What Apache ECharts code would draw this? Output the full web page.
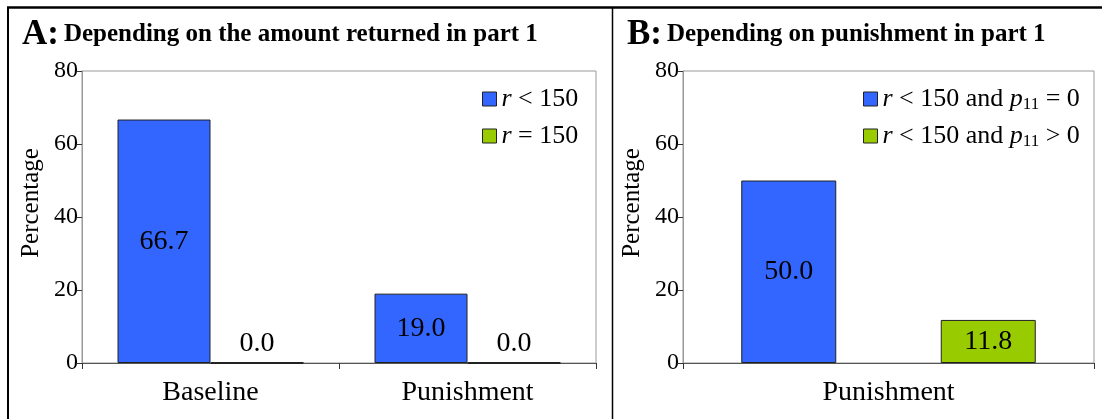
<!DOCTYPE html>
<html>
<head>
<meta charset="utf-8">
<script src="https://cdn.jsdelivr.net/npm/echarts@6/dist/echarts.min.js"></script>
<style>
html,body{margin:0;padding:0;background:#fff;}
#chart{width:1102px;height:419px;}
</style>
</head>
<body>
<div id="chart"></div>
<script>
// ---- data ----
var categoriesA = ['Baseline', 'Punishment'];
var seriesA_rLess = [66.7, 19.0];
var seriesA_rEq = [0.0, 0.0];
var categoriesB = ['Punishment'];
var seriesB_p0 = [50.0];
var seriesB_pPos = [11.8];
var yTicks = [0, 20, 40, 60, 80];
var titleA = ['A:', 'Depending on the amount returned in part 1'];
var titleB = ['B:', 'Depending on punishment in part 1'];

var FONT = '"Liberation Serif", "Times New Roman", serif';
var BLUE = '#3366FF';
var GREEN = '#99CC00';

var chart = echarts.init(document.getElementById('chart'), null, {renderer: 'canvas'});

function yAxis(gridIndex) {
  return {
    type: 'value', gridIndex: gridIndex, min: yTicks[0], max: yTicks[yTicks.length - 1], interval: 20,
    name: 'Percentage', nameLocation: 'middle', nameRotate: 90, nameGap: 38,
    nameTextStyle: {fontFamily: FONT, fontSize: 25, color: '#000', padding: [0, 0, 0, 28]},
    axisLine: {show: true, lineStyle: {color: '#999', width: 1}},
    axisTick: {show: true, inside: false, length: 5, lineStyle: {color: '#333'}},
    axisLabel: {fontFamily: FONT, fontSize: 24, color: '#000', margin: 4},
    splitLine: {show: false}
  };
}
function xAxis(gridIndex, cats) {
  return {
    type: 'category', gridIndex: gridIndex, data: cats,
    axisLine: {show: true, lineStyle: {color: '#555', width: 1}},
    axisTick: {show: true, length: 6, lineStyle: {color: '#333'}},
    axisLabel: {fontFamily: FONT, fontSize: 28, color: '#000', margin: 16}
  };
}
var labelFmt = function (p) { return Number(p.value).toFixed(1); };
function lbl(pos) {
  return {show: true, position: pos, formatter: labelFmt, fontFamily: FONT, fontSize: 28, color: '#000', distance: 4};
}
var legendRich = {
  i: {fontFamily: FONT, fontStyle: 'italic', fontSize: 26, color: '#000', lineHeight: 28},
  sub: {fontFamily: FONT, fontSize: 17, color: '#000', verticalAlign: 'bottom', lineHeight: 13}
};
var legendNames = {
  'A1': '{i|r} < 150',
  'A2': '{i|r} = 150',
  'B1': '{i|r} < 150 and {i|p}{sub|11} = 0',
  'B2': '{i|r} < 150 and {i|p}{sub|11} > 0'
};

var option = {
  backgroundColor: '#fff',
  animation: false,
  title: [
    {
      left: 17, top: 12,
      text: '{a|' + titleA[0] + '} {b|' + titleA[1] + '}',
      textStyle: {rich: {
        a: {fontFamily: FONT, fontWeight: 'bold', fontSize: 35, color: '#000'},
        b: {fontFamily: FONT, fontWeight: 'bold', fontSize: 25, color: '#000'}
      }}
    },
    {
      left: 622, top: 12,
      text: '{a|' + titleB[0] + '} {b|' + titleB[1] + '}',
      textStyle: {rich: {
        a: {fontFamily: FONT, fontWeight: 'bold', fontSize: 35, color: '#000'},
        b: {fontFamily: FONT, fontWeight: 'bold', fontSize: 25, color: '#000'}
      }}
    }
  ],
  legend: [
    {
      data: ['A1', 'A2'], orient: 'vertical', left: 477, top: 80, itemGap: 9,
      itemWidth: 14, itemHeight: 14, icon: 'rect',
      itemStyle: {borderColor: '#222', borderWidth: 1},
      formatter: function (n) { return legendNames[n]; },
      textStyle: {fontFamily: FONT, fontSize: 26, color: '#000', lineHeight: 28, rich: legendRich}
    },
    {
      data: ['B1', 'B2'], orient: 'vertical', left: 858, top: 80, itemGap: 9,
      itemWidth: 14, itemHeight: 14, icon: 'rect',
      itemStyle: {borderColor: '#222', borderWidth: 1},
      formatter: function (n) { return legendNames[n]; },
      textStyle: {fontFamily: FONT, fontSize: 26, color: '#000', lineHeight: 28, rich: legendRich}
    }
  ],
  grid: [
    {left: 82, top: 71, width: 514, height: 292, show: true, borderColor: '#999', borderWidth: 1, backgroundColor: 'transparent'},
    {left: 683, top: 71, width: 411, height: 292, show: true, borderColor: '#999', borderWidth: 1, backgroundColor: 'transparent'}
  ],
  xAxis: [xAxis(0, categoriesA), xAxis(1, categoriesB)],
  yAxis: [yAxis(0), yAxis(1)],
  series: [
    {name: 'A1', type: 'bar', xAxisIndex: 0, yAxisIndex: 0, data: seriesA_rLess, barWidth: 93, barGap: '0%',
      itemStyle: {color: BLUE, borderColor: '#222', borderWidth: 1}, label: lbl('inside')},
    {name: 'A2', type: 'bar', xAxisIndex: 0, yAxisIndex: 0, data: seriesA_rEq, barWidth: 93, barGap: '0%',
      itemStyle: {color: GREEN, borderColor: '#222', borderWidth: 2}, label: lbl('top')},
    {name: 'B1', type: 'bar', xAxisIndex: 1, yAxisIndex: 1, data: seriesB_p0, barWidth: 95, barGap: '110%',
      itemStyle: {color: BLUE, borderColor: '#222', borderWidth: 1}, label: lbl('inside')},
    {name: 'B2', type: 'bar', xAxisIndex: 1, yAxisIndex: 1, data: seriesB_pPos, barWidth: 95, barGap: '110%',
      itemStyle: {color: GREEN, borderColor: '#222', borderWidth: 1}, label: lbl('inside')}
  ],
  graphic: [
    {type: 'line', shape: {x1: 7, y1: 7.5, x2: 1102, y2: 7.5}, style: {stroke: '#000', lineWidth: 2.5}},
    {type: 'line', shape: {x1: 8, y1: 7, x2: 8, y2: 419}, style: {stroke: '#000', lineWidth: 2}},
    {type: 'line', shape: {x1: 612.5, y1: 7, x2: 612.5, y2: 419}, style: {stroke: '#000', lineWidth: 1.5}}
  ]
};
chart.setOption(option);
</script>
</body>
</html>
